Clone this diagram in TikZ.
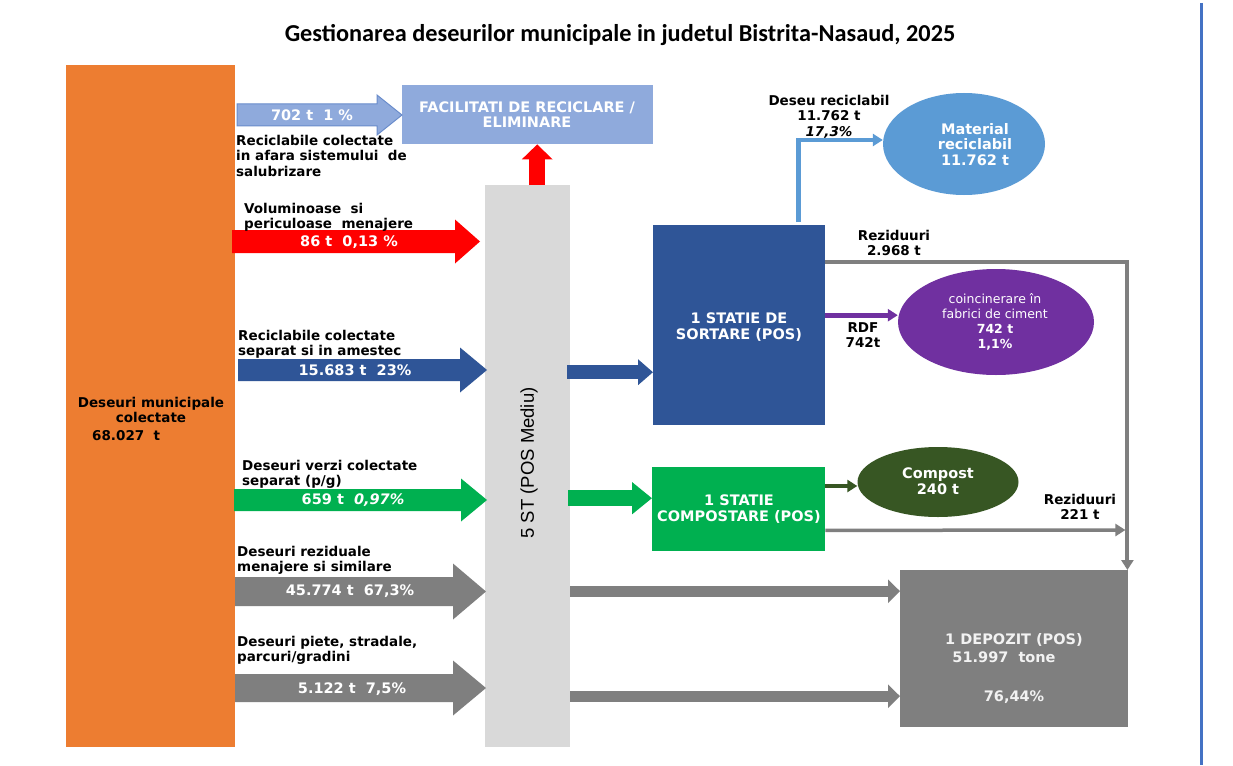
\documentclass[tikz,border=0pt]{standalone}
\usepackage{fontspec}
\setmainfont{DejaVu Sans}
\newfontfamily\titlefont{Carlito}
\newfontfamily\arialfont{Liberation Sans}
\usetikzlibrary{shapes.geometric,arrows.meta,calc}
\definecolor{corange}{HTML}{ED7D31}
\definecolor{ccol}{HTML}{D9D9D9}
\definecolor{cfacil}{HTML}{8FAADC}
\definecolor{cfacilb}{HTML}{6A8CCB}
\definecolor{cred}{HTML}{FF0000}
\definecolor{cblue}{HTML}{2F5597}
\definecolor{cgreen}{HTML}{00B050}
\definecolor{cgray}{HTML}{7F7F7F}
\definecolor{clb}{HTML}{5B9BD5}
\definecolor{cpurple}{HTML}{7030A0}
\definecolor{cdg}{HTML}{375623}
\definecolor{cvline}{HTML}{4472C4}
\definecolor{cwhite}{HTML}{F2F2F2}
\newcommand\fatarrow[7]{\path[#7] (#1,#4-#5) -- (#2,#4-#5) -- (#2,#4-#6) -- (#3,#4) -- (#2,#4+#6) -- (#2,#4+#5) -- (#1,#4+#5) -- cycle;}
\begin{document}
\begin{tikzpicture}[x=1pt,y=-1pt,
  lbl/.style={inner sep=0pt, font=\fontsize{13.5}{15.5}\selectfont\bfseries, align=left, anchor=north west, text=black},
  wlbl/.style={inner sep=0pt, font=\fontsize{14.5}{16}\selectfont\bfseries, text=white, anchor=base},
  clbl/.style={inner sep=0pt, font=\fontsize{13.5}{15.5}\selectfont\bfseries, align=center, anchor=north},
  cwlbl/.style={inner sep=0pt, font=\fontsize{14.5}{15.5}\selectfont\bfseries, align=center, anchor=north, text=white},
  box/.style={inner sep=0pt, anchor=north west, draw=none},
  ell/.style={ellipse, inner sep=0pt, draw=none},
  thin/.style={line width=#1, -{Triangle[length=10pt,width=12pt]}},
]
\useasboundingbox (0,0) rectangle (1233,765);
\fill[white] (0,0) rectangle (1233,765);

% title
\node[font=\titlefont\bfseries\fontsize{24.3}{26}\selectfont, anchor=base, inner sep=0pt] (title) at (620,42) {Gestionarea deseurilor municipale in judetul Bistrita-Nasaud, 2025};

% vertical page line
\draw[cvline, line width=3pt] (1201,3) -- (1201,765);

% main blocks
\node[box, fill=corange, minimum width=169pt, minimum height=682pt] (orange) at (66,65) {};
\node[box, fill=ccol, minimum width=85pt, minimum height=562pt] (col) at (485,185) {};
\node[box, fill=cfacil, minimum width=251pt, minimum height=59pt] (facil) at (402,85) {};
\node[box, fill=cblue, minimum width=172pt, minimum height=200pt] (sorter) at (653,225) {};
\node[box, fill=cgreen, minimum width=173pt, minimum height=84pt] (cst) at (652,467) {};
\node[box, fill=cgray, minimum width=228pt, minimum height=157pt] (dep) at (900,570) {};
\node[ell, fill=clb, minimum width=162pt, minimum height=102pt] (mat) at (964,144) {};
\node[ell, fill=cpurple, minimum width=196pt, minimum height=106pt] (purp) at (996,322) {};
\node[ell, fill=cdg, minimum width=161pt, minimum height=70pt] (comp) at (938,482) {};

% texts in blocks
\node[clbl] (orangetxt) at (151,397) {Deseuri municipale\\colectate};
\node[lbl, anchor=base west] (orangeval) at (92,440) {68.027\ \ t};
\node[rotate=90, inner sep=0pt, font=\arialfont\fontsize{18.5}{20}\selectfont] (coltxt) at (529,463) {5 ST (POS Mediu)};
\node[cwlbl] (faciltxt) at (527,101.5) {FACILITATI DE RECICLARE /\\ELIMINARE};
\node[cwlbl] (sortertxt) at (739,313) {1 STATIE DE\\SORTARE (POS)};
\node[cwlbl] (csttxt) at (739,495) {1 STATIE\\COMPOSTARE (POS)};
\node[wlbl, text=cwhite] (dep1) at (1014,644) {1 DEPOZIT (POS)};
\node[wlbl, text=cwhite] (dep2) at (1004,662) {51.997\ \ tone};
\node[wlbl, text=cwhite] (dep3) at (1014,701) {76,44\%};
\node[cwlbl] (mattxt) at (975,123) {Material\\reciclabil\\11.762 t};
\node[clbl, text=white, font=\fontsize{12.5}{15}\selectfont] (purptxt) at (995,293.5) {coincinerare în\\fabrici de ciment\\\textbf{742 t}\\\textbf{1,1\%}};
\node[cwlbl] (comptxt) at (938,468) {Compost\\240 t};

% fat arrows from the orange block
\fatarrow{237}{377}{402}{115}{11}{20}{fill=cfacil, draw=cfacilb, line width=1pt}
\fatarrow{232}{455}{480}{241.5}{11.5}{22}{fill=cred}
\fatarrow{238}{460}{487}{370}{11}{22.5}{fill=cblue}
\fatarrow{234}{461}{487}{500}{11}{21.5}{fill=cgreen}
\fatarrow{235}{453}{486}{591.5}{14.5}{28}{fill=cgray}
\fatarrow{235}{453}{486}{688}{14}{27.5}{fill=cgray}

% arrow labels
\node[wlbl] (a1) at (312,121) {702 t\ \ 1 \%};
\node[wlbl] (a2) at (349,246) {86 t\ \ 0,13 \%};
\node[wlbl] (a3) at (355,375) {15.683 t\ \ 23\%};
\node[wlbl] (a4) at (353,504) {659 t\ \ \textit{0,97\%}};
\node[wlbl] (a5) at (350,595) {45.774 t\ \ 67,3\%};
\node[wlbl] (a6) at (352,693) {5.122 t\ \ 7,5\%};

% flow labels
\node[lbl] (l1) at (236,135) {Reciclabile colectate\\in afara sistemului\ \ de\\salubrizare};
\node[lbl] (l2) at (244,203) {Voluminoase\ \ si\\periculoase\ \ menajere};
\node[lbl] (l3) at (238,330) {Reciclabile colectate\\separat si in amestec};
\node[lbl] (l4) at (242,460) {Deseuri verzi colectate\\separat (p/g)};
\node[lbl] (l5) at (237,546) {Deseuri reziduale\\menajere si similare};
\node[lbl] (l6) at (237,636) {Deseuri piete, stradale,\\parcuri/gradini};

\node[clbl] (rec) at (829,95) {Deseu reciclabil\\11.762 t\\\textit{17,3\%}};
\node[clbl] (rez1) at (894,230) {Reziduuri\\2.968 t};
\node[clbl] (rdf) at (863,322) {RDF\\742t};
\node[clbl] (rez2) at (1080,494) {Reziduuri\\221 t};

% connectors
\draw[cred, line width=16pt, -{Triangle[length=15pt,width=30pt]}] ($(col.north)+(9.5,0)$) -- ($(facil.south)+(9.5,0)$);

\coordinate (b1) at ($(col.east)+(-3,-94)$);
\draw[cblue, line width=14pt, -{Triangle[length=15pt,width=25pt]}] (b1) -- (b1 -| sorter.west);
\coordinate (g0) at ($(col.east)+(-2,32)$);
\draw[cgreen, line width=16pt, -{Triangle[length=20pt,width=31pt]}] (g0) -- (g0 -| cst.west);
\coordinate (g1) at ($(col.east)+(0,125)$);
\draw[cgray, line width=11pt, -{Triangle[length=12pt,width=23pt]}] (g1) -- (g1 -| dep.west);
\coordinate (g2) at ($(col.east)+(0,230)$);
\draw[cgray, line width=11pt, -{Triangle[length=12pt,width=23pt]}] (g2) -- (g2 -| dep.west);

\draw[clb, thin=4.5pt] ($(sorter.north east)+(-27,-3)$) |- ($(mat.west)+(0,-4)$);
\draw[cgray, thin=4pt] ($(sorter.north east)+(0,37)$) -| ($(dep.north east)+(-1,0)$);
\coordinate (rdfs) at ($(sorter.east)+(0,-10)$);
\draw[cpurple, thin=5pt] (rdfs) -- (rdfs -| purp.west);
\draw[cdg, thin=4pt] ($(cst.north east)+(0,19)$) -- ($(comp.west)+(0,4)$);
\coordinate (r221) at ($(dep.north east)+(-3,-40)$);
\draw[cgray, thin=3.5pt] ($(cst.south east)+(0,-21)$) -- (r221);
\end{tikzpicture}
\end{document}
